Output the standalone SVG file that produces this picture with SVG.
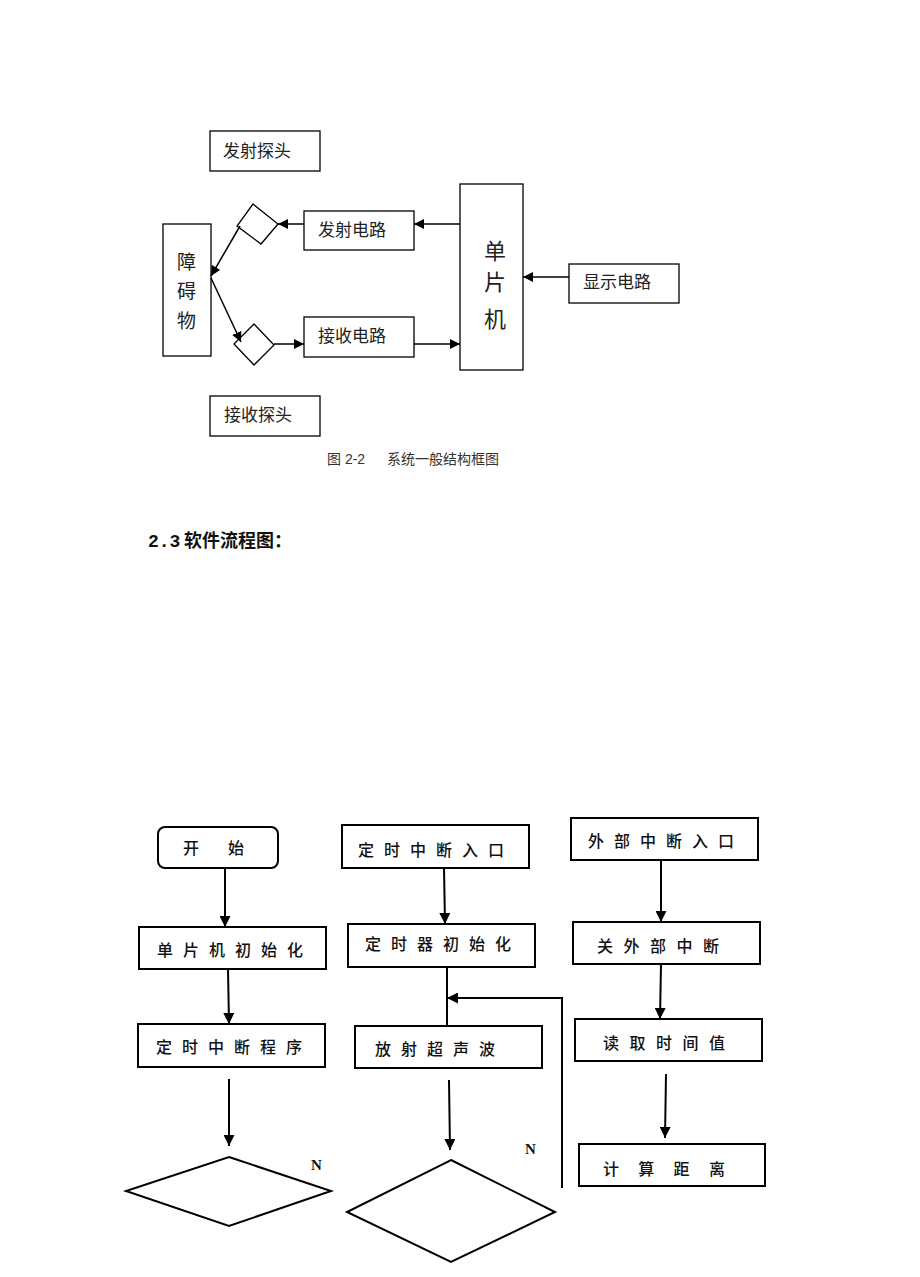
<svg xmlns="http://www.w3.org/2000/svg" width="920" height="1277" viewBox="0 0 920 1277">
<style>
.b1{fill:#fff;stroke:#000;stroke-width:1.3}
.b2{fill:#fff;stroke:#000;stroke-width:2}
.c1{fill:none;stroke:#000;stroke-width:1.5}
.c2{fill:none;stroke:#000;stroke-width:2}
.t1{font-family:"Noto Sans CJK SC","Noto Sans",sans-serif;font-size:17px;fill:#222}
.t2{font-family:"Noto Sans CJK SC","Noto Sans",sans-serif;font-size:16px;font-weight:500;fill:#111;letter-spacing:10px}
.n{font-family:"Liberation Serif",serif;font-size:15px;font-weight:bold;fill:#111}
</style>
<defs>
<marker id="a" viewBox="0 0 10 10" refX="10" refY="5" markerWidth="10" markerHeight="10" markerUnits="userSpaceOnUse" orient="auto"><path d="M0,0L10,5L0,10z" fill="#000"/></marker>
<marker id="a2" viewBox="0 0 10 10" refX="10" refY="5" markerWidth="11" markerHeight="11" markerUnits="userSpaceOnUse" orient="auto"><path d="M0,0L10,5L0,10z" fill="#000"/></marker>
</defs>
<rect width="920" height="1277" fill="#fff"/>

<g id="tx_probe"><rect class="b1" x="210" y="131" width="110" height="40"/><text class="t1" x="223" y="157">发射探头</text></g>
<g id="obstacle"><rect class="b1" x="163" y="224" width="48" height="132"/><text class="t1" x="177" y="269" style="font-size:19px">障</text><text class="t1" x="177" y="298" style="font-size:19px">碍</text><text class="t1" x="177" y="328" style="font-size:19px">物</text></g>
<g id="diamond_up"><polygon class="b1" points="253,204 278,224 261,244 237,226"/></g>
<g id="diamond_low"><polygon class="b1" points="254,324 274,345 254,365 234,344"/></g>
<g id="tx_circuit"><rect class="b1" x="304" y="211" width="110" height="39"/><text class="t1" x="318" y="236">发射电路</text></g>
<g id="rx_circuit"><rect class="b1" x="304" y="317" width="110" height="40"/><text class="t1" x="318" y="342">接收电路</text></g>
<g id="mcu"><rect class="b1" x="460" y="184" width="63" height="186"/><text class="t1" x="484" y="259" style="font-size:22px">单</text><text class="t1" x="484" y="290" style="font-size:22px">片</text><text class="t1" x="484" y="327" style="font-size:22px">机</text></g>
<g id="display"><rect class="b1" x="569" y="264" width="110" height="39"/><text class="t1" x="583" y="288">显示电路</text></g>
<g id="rx_probe"><rect class="b1" x="210" y="396" width="110" height="40"/><text class="t1" x="224" y="421">接收探头</text></g>
<text id="caption" x="327" y="464" font-family="Liberation Sans,Noto Sans CJK SC,sans-serif" font-size="14" fill="#333">图 2-2<tspan x="387">系统一般结构框图</tspan></text>

<g id="heading">
<text x="148" y="547" font-family="Liberation Mono,monospace" font-size="18" font-weight="bold" fill="#111">2.3</text>
<text x="184" y="547" font-family="Noto Sans CJK SC,sans-serif" font-size="18" font-weight="bold" fill="#111">软件流程图：</text>
</g>

<g id="start"><rect class="b2" x="158" y="827" width="120" height="41" rx="7"/><text class="t2" x="183" y="854" style="letter-spacing:0">开<tspan x="228">始</tspan></text></g>
<g id="mcu_init"><rect class="b2" x="139" y="927" width="187" height="42"/><text class="t2" x="157" y="956">单片机初始化</text></g>
<g id="timer_prog"><rect class="b2" x="138" y="1024" width="187" height="43"/><text class="t2" x="156" y="1053">定时中断程序</text></g>
<g id="dec1"><polygon class="b2" points="229,1157 331,1191 229,1226 126,1191"/><text class="n" x="311" y="1170">N</text></g>

<g id="timer_entry"><rect class="b2" x="342" y="825" width="187" height="43"/><text class="t2" x="358" y="856">定时中断入口</text></g>
<g id="timer_init"><rect class="b2" x="348" y="924" width="187" height="43"/><text class="t2" x="365" y="950">定时器初始化</text></g>
<g id="emit"><rect class="b2" x="355" y="1026" width="187" height="42"/><text class="t2" x="375" y="1055">放射超声波</text></g>
<g id="dec2"><polygon class="b2" points="451,1160 555,1212 451,1262 347,1212"/><text class="n" x="525" y="1154">N</text></g>

<g id="ext_entry"><rect class="b2" x="571" y="818" width="187" height="42"/><text class="t2" x="588" y="847">外部中断入口</text></g>
<g id="ext_off"><rect class="b2" x="573" y="922" width="187" height="42"/><text class="t2" x="597" y="952" style="letter-spacing:10.5px">关外部中断</text></g>
<g id="read_time"><rect class="b2" x="575" y="1019" width="187" height="42"/><text class="t2" x="603" y="1049" style="letter-spacing:10.5px">读取时间值</text></g>
<g id="calc"><rect class="b2" x="579" y="1144" width="186" height="42"/><text class="t2" x="603" y="1175" style="letter-spacing:19.3px">计算距离</text></g>

<g id="connectors">
<line class="c1" x1="460" y1="224" x2="414" y2="224" marker-end="url(#a)"/>
<line class="c1" x1="304" y1="224" x2="278" y2="224" marker-end="url(#a)"/>
<line class="c1" x1="240" y1="226" x2="211" y2="276" marker-end="url(#a)"/>
<line class="c1" x1="211" y1="278" x2="241" y2="342" marker-end="url(#a)"/>
<line class="c1" x1="274" y1="344" x2="304" y2="344" marker-end="url(#a)"/>
<line class="c1" x1="414" y1="344" x2="460" y2="344" marker-end="url(#a)"/>
<line class="c1" x1="569" y1="277" x2="523" y2="277" marker-end="url(#a)"/>

<line class="c2" x1="225" y1="868" x2="225" y2="927" marker-end="url(#a2)"/>
<line class="c2" x1="228" y1="969" x2="229" y2="1024" marker-end="url(#a2)"/>
<line class="c2" x1="229" y1="1079" x2="229" y2="1146" marker-end="url(#a2)"/>
<line class="c2" x1="444" y1="868" x2="445" y2="924" marker-end="url(#a2)"/>
<line class="c2" x1="447" y1="967" x2="447" y2="1026"/>
<polyline class="c2" points="562,1188 562,998 447,998" marker-end="url(#a2)"/>
<line class="c2" x1="449" y1="1080" x2="450" y2="1150" marker-end="url(#a2)"/>
<line class="c2" x1="661" y1="860" x2="661" y2="922" marker-end="url(#a2)"/>
<line class="c2" x1="661" y1="964" x2="660" y2="1019" marker-end="url(#a2)"/>
<line class="c2" x1="666" y1="1074" x2="665" y2="1138" marker-end="url(#a2)"/>
</g>
</svg>
